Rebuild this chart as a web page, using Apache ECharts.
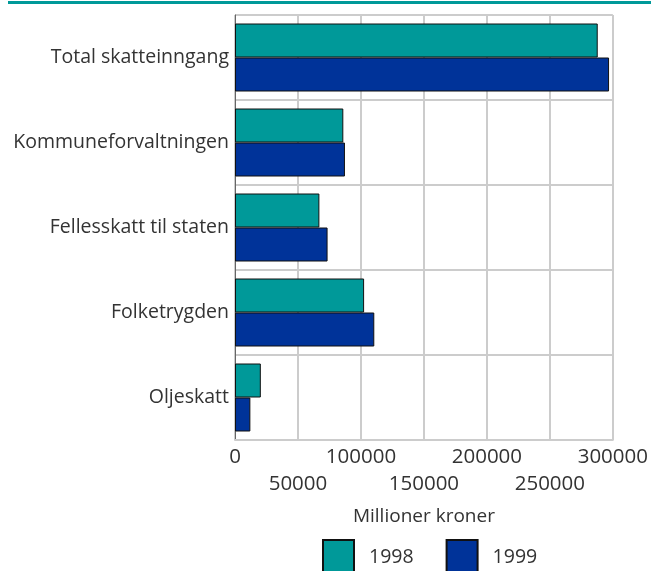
<!DOCTYPE html>
<html>
<head>
  <meta charset="utf-8">
  <title>Skatteinngang</title>
  <script src="https://cdn.jsdelivr.net/npm/echarts@6/dist/echarts.min.js"></script>
  <style>
    html, body { margin: 0; padding: 0; background: #fff; }
    #main { width: 651px; height: 571px; }
  </style>
</head>
<body>
  <div id="main"></div>
  <script type="text/javascript">
    // data
    var categories = ['Total skatteinngang', 'Kommuneforvaltningen', 'Fellesskatt til staten', 'Folketrygden', 'Oljeskatt'];
    var values1998 = [288000, 86000, 67000, 102500, 20500];
    var values1999 = [297000, 87300, 73500, 110600, 12200];
    var seriesNames = ['1998', '1999'];

    var myChart = echarts.init(document.getElementById('main'));
    var font = '"Open Sans", "Noto Sans", sans-serif';

    // ticks are staggered on two rows: multiples of 100000 on top, the rest below
    function isOdd(v) { return (v / 50000) % 2 === 1; }

    var option = {
      animation: false,
      textStyle: { fontFamily: font },
      graphic: [{
        type: 'rect',
        shape: { x: 8, y: 1, width: 643, height: 3 },
        style: { fill: '#009999' }
      }],
      grid: { left: 235, right: 38, top: 15, bottom: 131 },
      legend: {
        data: seriesNames,
        icon: 'rect',
        top: 534,
        left: 317,
        itemWidth: 31,
        itemHeight: 34,
        itemGap: 32,
        textStyle: { fontSize: 19.5, color: '#333', fontFamily: font, padding: [0, 0, 0, 10] }
      },
      xAxis: [{
        type: 'value',
        min: 0,
        max: 300000,
        interval: 50000,
        name: 'Millioner kroner',
        nameLocation: 'middle',
        nameGap: 67,
        nameTextStyle: { fontSize: 19, color: '#333', fontFamily: font },
        axisLine: { show: true, lineStyle: { color: '#cccccc', width: 2 } },
        axisTick: { show: false },
        axisLabel: {
          fontSize: 20.5,
          color: '#333',
          margin: 7,
          showMinLabel: true,
          showMaxLabel: true,
          formatter: function (v) { return isOdd(v) ? '' : String(v); }
        },
        splitLine: { show: true, lineStyle: { color: '#cccccc', width: 2 } }
      }, {
        type: 'value',
        position: 'bottom',
        min: 0,
        max: 300000,
        interval: 50000,
        axisLine: { show: false },
        axisTick: { show: false },
        splitLine: { show: false },
        axisLabel: {
          fontSize: 20.5,
          color: '#333',
          margin: 34,
          formatter: function (v) { return isOdd(v) ? String(v) : ''; }
        }
      }],
      yAxis: {
        type: 'category',
        data: categories,
        inverse: true,
        axisLine: { show: true, lineStyle: { color: '#666', width: 1 } },
        axisTick: { show: false },
        axisLabel: { fontSize: 19.5, color: '#333', margin: 6, padding: [5, 0, 0, 0] },
        splitLine: { show: true, lineStyle: { color: '#cccccc', width: 2 } }
      },
      series: [{
        name: seriesNames[0],
        type: 'bar',
        data: values1998,
        barGap: '0%',
        barCategoryGap: '20%',
        itemStyle: { color: '#009999', borderColor: '#111', borderWidth: 1 }
      }, {
        name: seriesNames[1],
        type: 'bar',
        data: values1999,
        itemStyle: { color: '#003399', borderColor: '#111', borderWidth: 1 }
      }]
    };

    myChart.setOption(option);
  </script>
</body>
</html>
